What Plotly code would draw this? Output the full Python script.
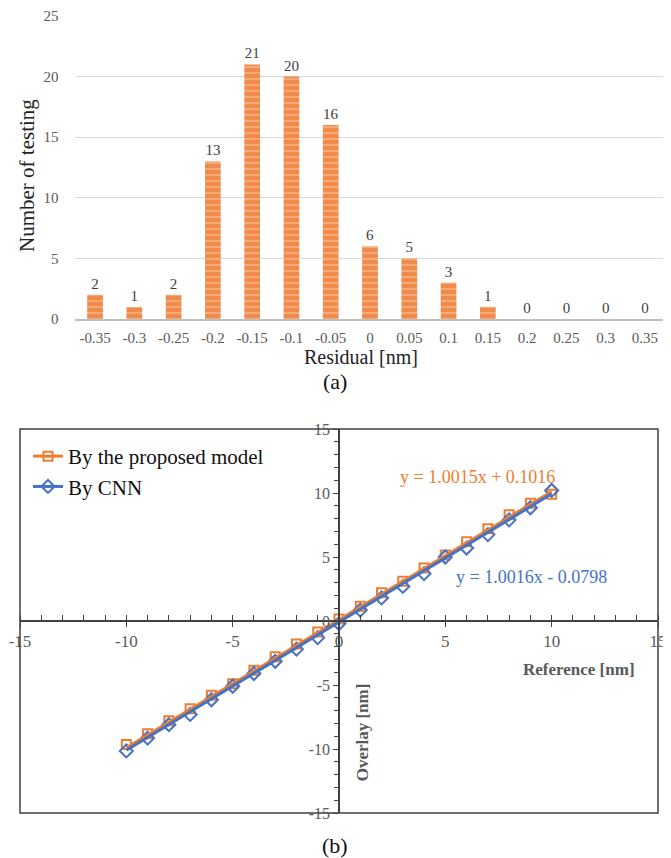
import plotly.graph_objects as go

# ---------- (a) histogram data ----------
residual_labels = ["-0.35", "-0.3", "-0.25", "-0.2", "-0.15", "-0.1", "-0.05", "0",
                   "0.05", "0.1", "0.15", "0.2", "0.25", "0.3", "0.35"]
counts = [2, 1, 2, 13, 21, 20, 16, 6, 5, 3, 1, 0, 0, 0, 0]

# ---------- (b) scatter data ----------
reference = [-10, -9, -8, -7, -6, -5, -4, -3, -2, -1, 0, 1, 2, 3, 4, 5, 6, 7, 8, 9, 10]
overlay_proposed = [-9.65, -8.8, -7.8, -6.85, -5.8, -4.9, -3.85, -2.8, -1.8, -0.85, 0.15,
                    1.15, 2.2, 3.1, 4.15, 5.15, 6.2, 7.2, 8.3, 9.2, 9.9]
overlay_cnn = [-10.15, -9.15, -8.1, -7.3, -6.15, -5.1, -4.1, -3.15, -2.2, -1.3, -0.2,
               0.85, 1.8, 2.7, 3.7, 5.0, 5.7, 6.75, 7.9, 8.85, 10.2]
fit_proposed = (1.0015, 0.1016)
fit_cnn = (1.0016, -0.0798)
fit_x = [-10, 10]
axis_ticks = [-15, -10, -5, 0, 5, 10, 15]
axis_ticktext = ["-15", "-10", "-5", "0", "5", "10", "15"]

ORANGE = "#ED7D31"
BLUE = "#4472C4"
SERIF = "Liberation Serif"

# page has an 8px body margin: the figure is placed at (8, 8) in the window
OFF = 8
W, H = 671 - OFF, 858 - OFF


def px(x):
    return (x - OFF) / W


def py(y):
    return 1 - (y - OFF) / H


fig = go.Figure()

# (a) bars
fig.add_trace(go.Bar(
    x=residual_labels, y=counts, text=[str(c) for c in counts],
    textposition="outside", cliponaxis=False,
    textfont=dict(family=SERIF, size=15, color="#404040"),
    marker=dict(color="#F08A4B", line=dict(width=0),
                pattern=dict(shape="-", bgcolor="#F08A4B", fgcolor="#F7C7A1",
                             size=6, solidity=0.35, fillmode="overlay")),
    xaxis="x", yaxis="y", showlegend=False,
))

# (b) points
fig.add_trace(go.Scatter(
    x=reference, y=overlay_proposed, mode="markers",
    marker=dict(symbol="square-open", color=ORANGE, size=9, line=dict(width=2, color=ORANGE)),
    xaxis="x2", yaxis="y2", showlegend=False,
))
fig.add_trace(go.Scatter(
    x=reference, y=overlay_cnn, mode="markers",
    marker=dict(symbol="diamond-open", color=BLUE, size=10, line=dict(width=2, color=BLUE)),
    xaxis="x2", yaxis="y2", showlegend=False,
))
# trend lines
fig.add_trace(go.Scatter(
    x=fit_x, y=[fit_proposed[0] * v + fit_proposed[1] for v in fit_x], mode="lines",
    line=dict(color=ORANGE, width=3), xaxis="x2", yaxis="y2", showlegend=False,
))
fig.add_trace(go.Scatter(
    x=fit_x, y=[fit_cnn[0] * v + fit_cnn[1] for v in fit_x], mode="lines",
    line=dict(color=BLUE, width=3), xaxis="x2", yaxis="y2", showlegend=False,
))
# legend entries
fig.add_trace(go.Scatter(
    x=[None], y=[None], mode="lines+markers", name="By the proposed model",
    marker=dict(symbol="square-open", color=ORANGE, size=9, line=dict(width=2, color=ORANGE)),
    line=dict(color=ORANGE, width=3), xaxis="x2", yaxis="y2",
))
fig.add_trace(go.Scatter(
    x=[None], y=[None], mode="lines+markers", name="By CNN",
    marker=dict(symbol="diamond-open", color=BLUE, size=10, line=dict(width=2, color=BLUE)),
    line=dict(color=BLUE, width=3), xaxis="x2", yaxis="y2",
))


def note(text, x, y, xref="paper", yref="paper", size=18, color="#111111", angle=0):
    return dict(text=text, x=x, y=y, xref=xref, yref=yref, showarrow=False,
                xanchor="center", yanchor="middle", textangle=angle,
                font=dict(family=SERIF, size=size, color=color))


fig.update_layout(
    width=W, height=H, margin=dict(l=0, r=0, t=0, b=0, autoexpand=False),
    paper_bgcolor="white", plot_bgcolor="white",
    font=dict(family=SERIF, color="#404040"),
    bargap=0.6,
    xaxis=dict(domain=[px(75.4), px(664.6)], anchor="y", type="category", automargin=False,
               showline=True, linecolor="#BFBFBF", linewidth=1.5, ticks="",
               ticklabelstandoff=4,
               tickfont=dict(family=SERIF, size=15, color="#595959"), showgrid=False),
    yaxis=dict(domain=[py(319), py(16)], anchor="x", range=[0, 25], automargin=False,
               tickvals=[0, 5, 10, 15, 20, 25], showgrid=True, gridcolor="#D9D9D9",
               gridwidth=1, zeroline=False, showline=False, ticks="",
               ticklabelstandoff=16,
               tickfont=dict(family=SERIF, size=15, color="#595959")),
    xaxis2=dict(domain=[px(20), px(658)], anchor="free", position=py(621), range=[-15, 15],
                automargin=False,
                tickvals=axis_ticks, ticktext=axis_ticktext, ticks="outside", ticklen=5,
                tickcolor="#404040", showline=True, linecolor="#404040", linewidth=1.5,
                showgrid=False, zeroline=False,
                minor=dict(dtick=1, ticks="inside", ticklen=5, tickcolor="#404040"),
                tickfont=dict(family=SERIF, size=17, color="#595959")),
    yaxis2=dict(domain=[py(813), py(429)], anchor="free", position=px(339), range=[-15, 15],
                automargin=False,
                tickvals=axis_ticks, ticktext=axis_ticktext, ticks="outside", ticklen=5,
                tickcolor="#404040", showline=True, linecolor="#404040", linewidth=1.5,
                showgrid=False, zeroline=False,
                minor=dict(dtick=1, ticks="outside", ticklen=4, tickcolor="#404040"),
                tickfont=dict(family=SERIF, size=16, color="#595959")),
    legend=dict(x=px(28), y=py(436), xanchor="left", yanchor="top",
                bgcolor="rgba(0,0,0,0)", font=dict(family=SERIF, size=21, color="#111111"),
                tracegroupgap=6),
    shapes=[dict(type="rect", xref="x2 domain", yref="y2 domain", x0=0, x1=1, y0=0, y1=1,
                 line=dict(color="#404040", width=1.5), layer="above")],
    annotations=[
        note("Number of testing", px(27), py(176), size=21, color="#222222", angle=-90),
        note("Residual [nm]", px(361), py(357), size=20, color="#222222"),
        note("(a)", px(335), py(381), size=22),
        note("(b)", px(335), py(845), size=22),
        note("y = 1.0015x + 0.1016", 6.5, 11.25, "x2", "y2", size=18, color=ORANGE),
        note("y = 1.0016x - 0.0798", 9.05, 3.4, "x2", "y2", size=18, color=BLUE),
        note("<b>Reference [nm]</b>", 11.3, -3.8, "x2", "y2", size=17, color="#595959"),
        note("<b>Overlay [nm]</b>", 1.08, -8.7, "x2", "y2", size=17, color="#595959", angle=-90),
    ],
)

fig.write_html("out.html")
